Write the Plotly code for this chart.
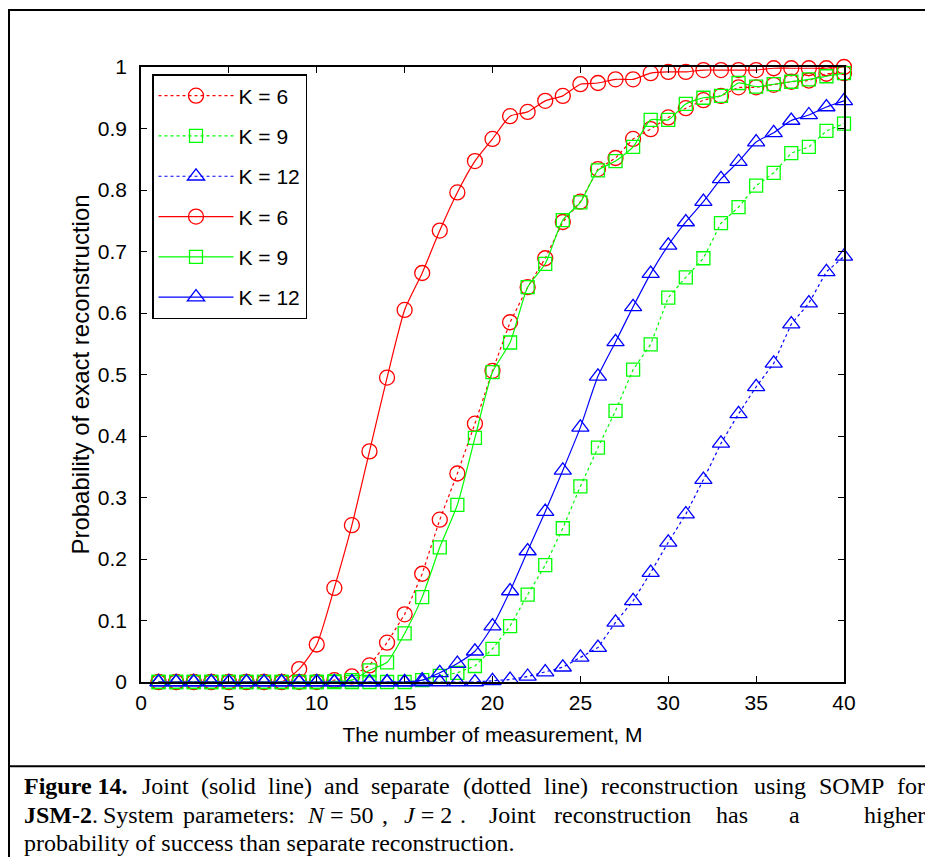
import plotly.graph_objects as go

# ---------------- data ----------------
M = list(range(1, 41))

sep_k6 = [0, 0, 0, 0, 0, 0, 0, 0, 0, 0,
          0.003, 0.009, 0.027, 0.064, 0.11, 0.176, 0.264, 0.339, 0.42, 0.506,
          0.585, 0.642, 0.689, 0.748, 0.781, 0.834, 0.852, 0.883, 0.899, 0.918,
          0.933, 0.946, 0.953, 0.967, 0.967, 0.971, 0.976, 0.978, 0.989, 0.99]
sep_k9 = [0, 0, 0, 0, 0, 0, 0, 0, 0, 0,
          0, 0, 0, 0, 0, 0.003, 0.01, 0.015, 0.026, 0.054,
          0.091, 0.142, 0.19, 0.25, 0.318, 0.381, 0.441, 0.508, 0.549, 0.625,
          0.658, 0.689, 0.746, 0.772, 0.807, 0.828, 0.86, 0.87, 0.896, 0.908]
sep_k12 = [0, 0, 0, 0, 0, 0, 0, 0, 0, 0,
           0, 0, 0, 0, 0, 0, 0, 0, 0, 0.002,
           0.004, 0.009, 0.016, 0.024, 0.04, 0.056, 0.097, 0.132, 0.178, 0.227,
           0.273, 0.329, 0.388, 0.436, 0.48, 0.518, 0.582, 0.616, 0.667, 0.692]
joint_k6 = [0, 0, 0, 0, 0, 0, 0, 0, 0.021, 0.061,
            0.153, 0.255, 0.375, 0.495, 0.605, 0.665, 0.734, 0.796, 0.847, 0.883,
            0.92, 0.927, 0.945, 0.953, 0.972, 0.974, 0.98, 0.98, 0.99, 0.992,
            0.992, 0.995, 0.995, 0.995, 0.995, 0.998, 0.998, 0.998, 0.998, 1.0]
joint_k9 = [0, 0, 0, 0, 0, 0, 0, 0, 0, 0,
            0.001, 0.003, 0.019, 0.032, 0.079, 0.138, 0.219, 0.288, 0.397, 0.504,
            0.552, 0.642, 0.68, 0.751, 0.78, 0.832, 0.847, 0.87, 0.914, 0.914,
            0.94, 0.95, 0.953, 0.974, 0.968, 0.972, 0.976, 0.98, 0.985, 0.99]
joint_k12 = [0, 0, 0, 0, 0, 0, 0, 0, 0, 0,
             0, 0, 0, 0, 0, 0.003, 0.015, 0.03, 0.05, 0.091,
             0.148, 0.213, 0.277, 0.344, 0.414, 0.497, 0.553, 0.61, 0.664, 0.71,
             0.748, 0.781, 0.818, 0.846, 0.878, 0.893, 0.913, 0.922, 0.935, 0.945]

x_ticks = [0, 5, 10, 15, 20, 25, 30, 35, 40]
y_ticks = [0, 0.1, 0.2, 0.3, 0.4, 0.5, 0.6, 0.7, 0.8, 0.9, 1]
y_tick_labels = ["0", "0.1", "0.2", "0.3", "0.4", "0.5", "0.6", "0.7", "0.8", "0.9", "1"]
x_title = "The number of measurement, M"
y_title = "Probability of exact reconstruction"

series = [
    ("K = 6", sep_k6, "#ff0000", "circle-open", 15, "dot", "linear"),
    ("K = 9", sep_k9, "#00ff00", "square-open", 13, "dot", "linear"),
    ("K = 12", sep_k12, "#0000ff", "triangle-up-open", 15, "dot", "linear"),
    ("K = 6", joint_k6, "#ff0000", "circle-open", 15, "solid", "spline"),
    ("K = 9", joint_k9, "#00ff00", "square-open", 13, "solid", "spline"),
    ("K = 12", joint_k12, "#0000ff", "triangle-up-open", 15, "solid", "spline"),
]

# ---------------- layout geometry ----------------
# the page body has an 8px margin, so the figure is drawn 8px in from the corner
OFF = 8
W, H = 933 - OFF, 857 - OFF
L = 141 - OFF
T = 67 - OFF
R = W - (844 - OFF)
B = H - (681.7 - OFF)
PW = W - L - R
PH = H - T - B


def px(x):
    return (x - OFF - L) / PW


def py(y):
    return (H - B - (y - OFF)) / PH


fig = go.Figure()
for i, (name, vals, col, sym, sz, dash, shape) in enumerate(series):
    fig.add_trace(go.Scatter(
        x=M, y=vals, name=name, mode="lines+markers",
        line=dict(color=col, width=1.2, dash=dash, shape=shape, smoothing=0.6),
        marker=dict(symbol=sym, size=sz, color=col, line=dict(color=col, width=1.3)),
        legendgroup="g%d" % i, cliponaxis=False,
    ))

axis_font = dict(family="Liberation Sans, Arial", size=21, color="black")

fig.update_xaxes(
    range=[0, 40], tickvals=x_ticks, ticks="inside", ticklen=6, tickcolor="black",
    showline=True, linecolor="black", linewidth=1.5, mirror="ticks",
    showgrid=False, zeroline=False, tickfont=axis_font, ticklabelstandoff=1,
    title=dict(text=x_title, font=axis_font, standoff=14),
)
fig.update_yaxes(
    range=[0, 1], tickvals=y_ticks, ticktext=y_tick_labels, ticks="inside", ticklen=6,
    tickcolor="black", showline=True, linecolor="black", linewidth=1.5, mirror="ticks",
    showgrid=False, zeroline=False, tickfont=axis_font, ticklabelstandoff=8,
    title=dict(text=y_title, font=dict(family="Liberation Sans, Arial", size=24, color="black"), standoff=1),
)

# caption lines: (centre y pixel, [(left x pixel, text), ...]) — justified like the reference
cap_font = dict(family="Liberation Serif, Times New Roman", size=24, color="black")
caption = [
    (786, [(22, "<b>Figure 14.</b>"), (140, "Joint"), (199, "(solid"), (266, "line)"),
           (322, "and"), (369, "separate"), (461, "(dotted"), (542, "line)"),
           (599, "reconstruction"), (752, "using"), (817, "SOMP"), (895, "for")]),
    (815, [(22, "<b>JSM-2</b>."), (101, "System"), (181, "parameters:"), (305, "<i>N</i> = 50"),
           (380, ","), (402, "<i>J</i> = 2"), (458, "."), (487, "Joint"), (552, "reconstruction"),
           (714, "has"), (787, "a"), (862, "higher")]),
    (843, [(22, "probability of success than separate reconstruction.")]),
]
annotations = []
for yy, chunks in caption:
    for xx, txt in chunks:
        annotations.append(dict(
            x=px(xx), y=py(yy), xref="paper", yref="paper", text=txt, showarrow=False,
            xanchor="left", yanchor="middle", font=cap_font,
        ))

shapes = [
    dict(type="line", xref="paper", yref="paper", x0=px(9), x1=px(9), y0=py(10), y1=py(860),
         line=dict(color="black", width=2)),
    dict(type="line", xref="paper", yref="paper", x0=px(8), x1=px(940), y0=py(10), y1=py(10),
         line=dict(color="black", width=2)),
    dict(type="line", xref="paper", yref="paper", x0=px(8), x1=px(940), y0=py(766), y1=py(766),
         line=dict(color="black", width=2)),
]

fig.update_layout(
    width=W, height=H, margin=dict(l=L, r=R, t=T, b=B, autoexpand=False),
    paper_bgcolor="white", plot_bgcolor="white",
    showlegend=True,
    legend=dict(
        x=px(152), y=py(74), xanchor="left", yanchor="top",
        bgcolor="white", bordercolor="black", borderwidth=1.5,
        font=dict(family="Liberation Sans, Arial", size=21, color="black"),
        tracegroupgap=10, itemwidth=75,
    ),
    annotations=annotations, shapes=shapes,
)

fig.write_html("out.html")
